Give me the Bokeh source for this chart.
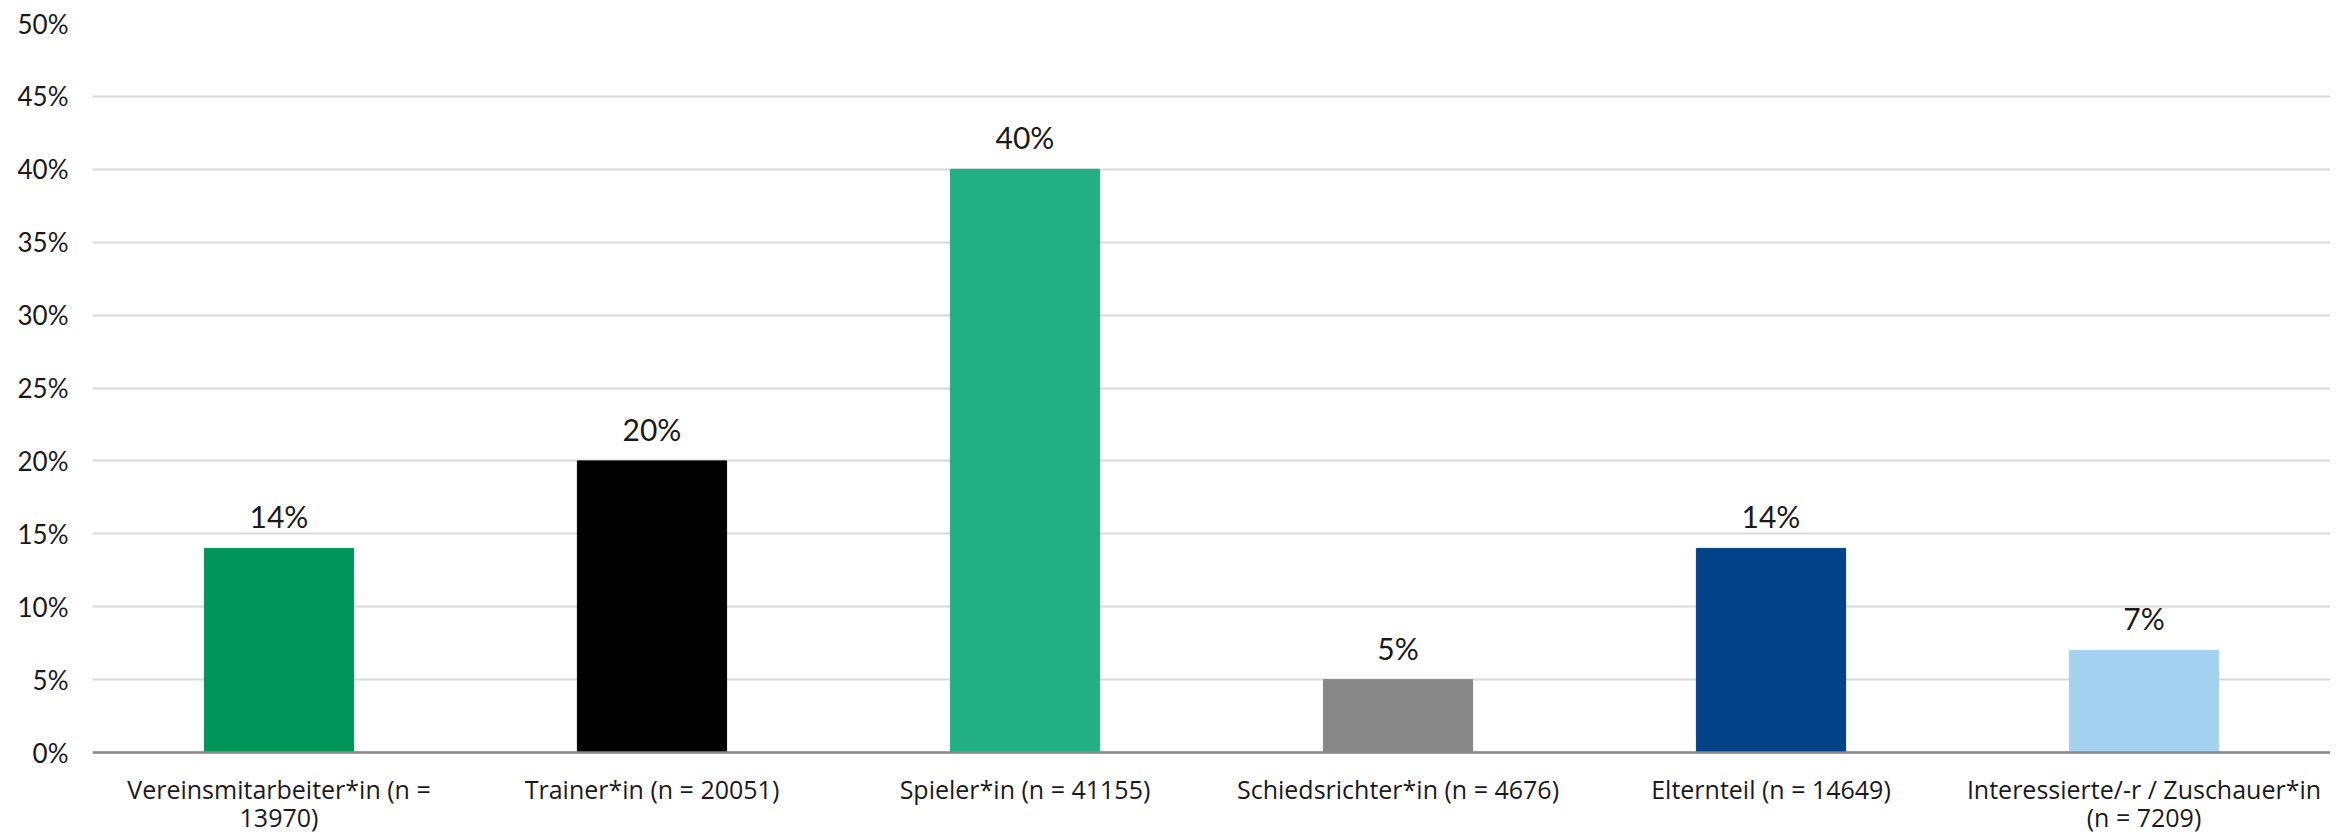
from bokeh.plotting import figure
from bokeh.models import FactorRange, Range1d, PrintfTickFormatter, FixedTicker, ColumnDataSource, LabelSet, Span
from bokeh.core.properties import value
from bokeh.embed import file_html
from bokeh.resources import INLINE

categories = [
    "Vereinsmitarbeiter*in (n = 13970)",
    "Trainer*in (n = 20051)",
    "Spieler*in (n = 41155)",
    "Schiedsrichter*in (n = 4676)",
    "Elternteil (n = 14649)",
    "Interessierte/-r / Zuschauer*in (n = 7209)",
]
label_line1 = [
    "Vereinsmitarbeiter*in (n =",
    "Trainer*in (n = 20051)",
    "Spieler*in (n = 41155)",
    "Schiedsrichter*in (n = 4676)",
    "Elternteil (n = 14649)",
    "Interessierte/-r / Zuschauer*in",
]
label_line2 = ["13970)", "", "", "", "", "(n = 7209)"]
percent_values = [14, 20, 40, 5, 14, 7]
bar_colors = ["#00965A", "#000000", "#21AF83", "#878787", "#024287", "#A5D1F0"]
y_ticks = [0, 5, 10, 15, 20, 25, 30, 35, 40, 45, 50]

source = ColumnDataSource(dict(
    cat=categories,
    val=percent_values,
    color=bar_colors,
    label=[f"{v}%" for v in percent_values],
    zero=[0] * len(categories),
    line1=label_line1,
    line2=label_line2,
))

# frame spans from the 50% gridline (y=23px) to the bottom of the canvas;
# the 0% baseline sits 80px above the bottom edge, leaving room for the category labels
HEIGHT = 832
TOP = 23
ZERO_PX = 752
y_max = 50
y_min = -y_max * (HEIGHT - ZERO_PX) / (ZERO_PX - TOP)

p = figure(
    x_range=FactorRange(*categories),
    y_range=Range1d(y_min, y_max),
    width=2330, height=HEIGHT,
    output_backend="svg", toolbar_location=None,
    min_border_left=92, min_border_right=0, min_border_top=TOP, min_border_bottom=0,
)
p.outline_line_color = None

p.xgrid.grid_line_color = None
p.ygrid.grid_line_color = "#D9D9D9"
p.ygrid.grid_line_width = 2

p.vbar(x="cat", top="val", bottom=0, width=0.4, color="color", source=source)

p.add_layout(Span(location=0, dimension="width", line_color="#898989", line_width=2.5))

p.add_layout(LabelSet(x="cat", y="val", text="label", source=source,
                      text_align="center", text_baseline="alphabetic", y_offset=20,
                      text_font=value("Lato"), text_font_size=value("30px"),
                      text_color=value("#1a1a1a")))

for col, off in (("line1", -46), ("line2", -74)):
    p.add_layout(LabelSet(x="cat", y="zero", text=col, source=source,
                          text_align="center", text_baseline="alphabetic", y_offset=off,
                          text_font=value("Open Sans"), text_font_size=value("25px"),
                          text_color=value("#1a1a1a")))

p.yaxis.ticker = FixedTicker(ticks=y_ticks)
p.yaxis.formatter = PrintfTickFormatter(format="%d%%")
p.yaxis.axis_line_color = None
p.yaxis.major_tick_line_color = None
p.yaxis.minor_tick_line_color = None
p.yaxis.major_label_text_font = "Lato"
p.yaxis.major_label_text_font_size = "26px"
p.yaxis.major_label_text_color = "#1a1a1a"
p.yaxis.major_label_standoff = 18

p.xaxis.visible = False

open("out.html", "w").write(file_html(p, INLINE))
